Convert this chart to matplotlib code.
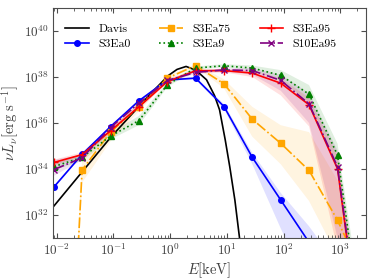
import numpy as np
import matplotlib
matplotlib.use("Agg")
import matplotlib.pyplot as plt
from matplotlib.ticker import NullLocator

plt.rcParams['font.family'] = 'serif'
plt.rcParams['font.serif'] = ['cmr10', 'DejaVu Serif']
plt.rcParams['mathtext.fontset'] = 'cm'
plt.rcParams['axes.formatter.use_mathtext'] = True

# photon energy bins [keV]
E = [0.009, 0.028, 0.089, 0.28, 0.89, 2.8, 8.9, 28, 89, 280, 890, 2800]

# log10(nu L_nu), with shaded band limits
s3ea0 = [33.22, 34.63, 35.84, 36.96, 37.87, 37.95, 36.71, 34.5, 32.64, 30.8, 29.0]
s3ea0_lo = [33.17, 34.58, 35.79, 36.91, 37.82, 37.9, 36.6, 34.2, 31.4, 28.8, 25.0]
s3ea0_hi = [33.27, 34.68, 35.89, 37.01, 37.92, 38.0, 36.82, 34.7, 32.95, 31.5, 29.8]

s3ea75 = [10.0, 33.95, 35.6, 36.7, 37.95, 38.5, 37.7, 36.16, 35.11, 33.93, 31.76, 29.1]
s3ea75_lo = [8.0, 33.4, 35.2, 36.5, 37.85, 38.45, 37.5, 35.4, 34.2, 32.6, 30.2, 26.0]
s3ea75_hi = [12.0, 34.4, 35.8, 36.85, 38.05, 38.55, 37.9, 36.7, 35.9, 35.6, 33.5, 27.5]

s3ea9 = [34.1, 34.5, 35.43, 36.1, 37.66, 38.39, 38.49, 38.39, 38.07, 37.25, 34.6, 25.8]
s3ea9_lo = [33.95, 34.35, 35.28, 35.9, 37.55, 38.32, 38.42, 38.3, 37.85, 36.9, 34.1, 25.0]
s3ea9_hi = [34.25, 34.65, 35.58, 36.3, 37.76, 38.46, 38.56, 38.5, 38.3, 37.65, 35.1, 26.8]

s3ea95 = [34.28, 34.62, 35.66, 36.7, 37.8, 38.27, 38.28, 38.17, 37.73, 36.79, 34.0, 24.8]
s3ea95_lo = [34.15, 34.52, 35.55, 36.6, 37.72, 38.2, 38.2, 38.0, 37.2, 35.85, 30.5, 22.0]
s3ea95_hi = [34.4, 34.72, 35.76, 36.8, 37.88, 38.34, 38.35, 38.3, 37.95, 37.1, 34.6, 26.0]

s10ea95 = [33.97, 34.48, 35.8, 36.86, 37.85, 38.2, 38.31, 38.28, 37.85, 36.83, 34.09, 25.0]
s10ea95_lo = [33.7, 34.38, 35.65, 36.76, 37.77, 38.13, 38.22, 38.1, 37.4, 36.0, 31.0, 22.0]
s10ea95_hi = [34.4, 34.6, 35.9, 36.96, 37.93, 38.27, 38.38, 38.38, 38.1, 37.3, 34.8, 26.0]

# Davis spectrum, sampled along the curve
davis_logE = [-2.06, -1.04, -0.54, -0.34, -0.04, 0.12, 0.28, 0.45, 0.64,
              0.78, 0.87, 0.97, 1.05, 1.14, 1.22, 1.3]
davis_logL = [32.35, 35.4, 36.75, 37.28, 38.05, 38.33, 38.46, 38.3, 37.88,
              37.2, 36.57, 35.26, 34.09, 32.64, 31.03, 29.2]

series = [
    ('S3Ea0', s3ea0, s3ea0_lo, s3ea0_hi, 'blue', '-', 'o', 4),
    ('S3Ea75', s3ea75, s3ea75_lo, s3ea75_hi, 'orange', '-.', 's', 4),
    ('S3Ea9', s3ea9, s3ea9_lo, s3ea9_hi, 'green', ':', '^', 4),
    ('S3Ea95', s3ea95, s3ea95_lo, s3ea95_hi, 'red', '-', '+', 6),
    ('S10Ea95', s10ea95, s10ea95_lo, s10ea95_hi, 'purple', '-.', 'x', 4),
]

fig = plt.figure(figsize=(3.74, 2.8), dpi=100)
ax = fig.add_axes([0.1425, 0.151, 0.8355, 0.82])

handles = {}
h, = ax.plot(10 ** np.array(davis_logE), 10 ** np.array(davis_logL), color='k',
             lw=1.2, label='Davis')
handles['Davis'] = h

for name, y, lo, hi, col, ls, mk, ms in series:
    n = len(y)
    x = np.array(E[:n])
    ax.fill_between(x, 10 ** np.array(lo), 10 ** np.array(hi), color=col,
                    alpha=0.12, lw=0)
    h, = ax.plot(x, 10 ** np.array(y), color=col, ls=ls, marker=mk, ms=ms,
                 mew=1.0, lw=1.2, label=name)
    handles[name] = h

ax.set_xscale('log')
ax.set_yscale('log')
ax.set_xlim(0.0087, 2800)
ax.set_ylim(1e31, 1e41)
ax.set_yticks([1e32, 1e34, 1e36, 1e38, 1e40])
ax.yaxis.set_minor_locator(NullLocator())

for sp in ax.spines.values():
    sp.set_color('0.3')
ax.tick_params(which='both', direction='in', top=True, right=True,
               colors='0.3', labelsize=9.5)
ax.tick_params(which='major', length=3.5)
ax.tick_params(which='minor', length=2)
for lab in ax.get_xticklabels() + ax.get_yticklabels():
    lab.set_color('0.25')

ax.set_xlabel(r'$E[\mathrm{keV}]$', fontsize=10.5, color='0.25', labelpad=2)
ax.set_ylabel(r'$\nu L_\nu[\mathrm{erg\ s^{-1}}]$', fontsize=10.5,
              color='0.25', labelpad=2)

order = ['Davis', 'S3Ea0', 'S3Ea75', 'S3Ea9', 'S3Ea95', 'S10Ea95']
ax.legend([handles[k] for k in order], order, loc='upper left', ncol=3,
          bbox_to_anchor=(0.0, 0.982), frameon=False, fontsize=8.5,
          handlelength=2.0, handletextpad=0.8, columnspacing=2.45,
          labelspacing=0.4, borderaxespad=0.6)

fig.savefig('out.png', dpi=100)
